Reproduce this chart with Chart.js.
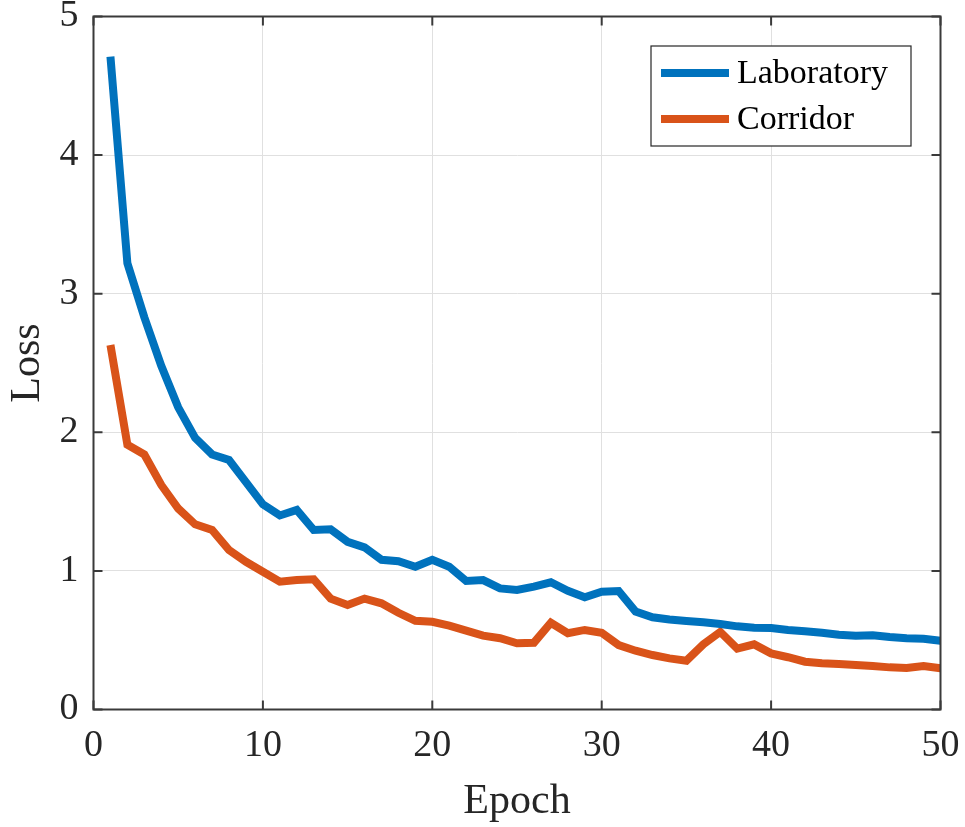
<!DOCTYPE html>
<html>
<head>
<meta charset="utf-8">
<script src="https://cdn.jsdelivr.net/npm/chart.js@4.4.1/dist/chart.umd.min.js"></script>
<style>
  html, body { margin: 0; padding: 0; background: #ffffff; }
  #wrap { width: 965px; height: 827px; position: relative; }
</style>
</head>
<body>
<div id="wrap"><canvas id="c" width="965" height="827"></canvas></div>
<script>
// ---- data ----
const epochs = [1,2,3,4,5,6,7,8,9,10,11,12,13,14,15,16,17,18,19,20,21,22,23,24,25,26,27,28,29,30,31,32,33,34,35,36,37,38,39,40,41,42,43,44,45,46,47,48,49,50];
const laboratory = [4.71,3.22,2.83,2.48,2.18,1.96,1.84,1.80,1.64,1.48,1.40,1.44,1.295,1.30,1.21,1.17,1.08,1.07,1.03,1.08,1.03,0.927,0.934,0.874,0.862,0.886,0.918,0.857,0.81,0.85,0.855,0.706,0.665,0.65,0.639,0.629,0.617,0.60,0.59,0.588,0.574,0.564,0.554,0.54,0.533,0.535,0.523,0.514,0.511,0.496];
const corridor = [2.63,1.91,1.84,1.62,1.45,1.336,1.295,1.15,1.066,0.994,0.922,0.934,0.939,0.80,0.754,0.80,0.766,0.698,0.64,0.633,0.605,0.569,0.533,0.514,0.478,0.482,0.626,0.55,0.574,0.554,0.465,0.424,0.393,0.369,0.352,0.47,0.56,0.44,0.47,0.405,0.377,0.345,0.333,0.328,0.321,0.314,0.304,0.30,0.314,0.297];
const seriesNames = ["Laboratory", "Corridor"];
const xTicks = [0,10,20,30,40,50];
const yTicks = [0,1,2,3,4,5];
const xTitle = "Epoch";
const yTitle = "Loss";

const FONT = "'Liberation Serif', 'Times New Roman', serif";
const AXIS_COLOR = '#3a3a3a';

const toPts = (ys) => ys.map((y, i) => ({ x: epochs[i], y: y }));

const framePlugin = {
  id: 'frame',
  afterDatasetsDraw(chart) {
    const { ctx, chartArea: a, scales } = chart;
    ctx.save();
    ctx.strokeStyle = AXIS_COLOR;
    ctx.lineWidth = 2;
    ctx.strokeRect(a.left, a.top, a.right - a.left, a.bottom - a.top);
    const tl = 9;
    ctx.beginPath();
    xTicks.forEach(v => {
      const px = scales.x.getPixelForValue(v);
      ctx.moveTo(px, a.bottom); ctx.lineTo(px, a.bottom - tl);
      ctx.moveTo(px, a.top); ctx.lineTo(px, a.top + tl);
    });
    yTicks.forEach(v => {
      const py = scales.y.getPixelForValue(v);
      ctx.moveTo(a.left, py); ctx.lineTo(a.left + tl, py);
      ctx.moveTo(a.right, py); ctx.lineTo(a.right - tl, py);
    });
    ctx.stroke();

    const bx = 651, by = 46, bw = 260, bh = 100;
    ctx.fillStyle = '#ffffff';
    ctx.fillRect(bx, by, bw, bh);
    ctx.strokeStyle = '#262626';
    ctx.lineWidth = 1.2;
    ctx.strokeRect(bx, by, bw, bh);
    chart.data.datasets.forEach((ds, i) => {
      const cy = by + 27 + i * 46;
      ctx.strokeStyle = ds.borderColor;
      ctx.lineWidth = 8;
      ctx.lineCap = 'butt';
      ctx.beginPath();
      ctx.moveTo(bx + 10, cy); ctx.lineTo(bx + 78, cy);
      ctx.stroke();
      ctx.fillStyle = '#000000';
      ctx.font = "34px " + FONT;
      ctx.textAlign = 'left';
      ctx.textBaseline = 'middle';
      ctx.fillText(ds.label, bx + 86, cy + 1);
    });
    ctx.restore();
  }
};

new Chart(document.getElementById('c'), {
  type: 'line',
  data: {
    datasets: [
      { label: seriesNames[0], data: toPts(laboratory), borderColor: '#0072BD', backgroundColor: '#0072BD', borderWidth: 8, pointRadius: 0, tension: 0, fill: false, borderCapStyle: 'butt', borderJoinStyle: 'miter' },
      { label: seriesNames[1], data: toPts(corridor), borderColor: '#D95319', backgroundColor: '#D95319', borderWidth: 8, pointRadius: 0, tension: 0, fill: false, borderCapStyle: 'butt', borderJoinStyle: 'miter' }
    ]
  },
  options: {
    responsive: false,
    animation: false,
    devicePixelRatio: 1,
    layout: { padding: { top: 16.5, right: 24.5, left: 0, bottom: 0 } },
    plugins: { legend: { display: false }, tooltip: { enabled: false } },
    scales: {
      x: {
        type: 'linear', min: 0, max: 50,
        afterBuildTicks: (s) => { s.ticks = xTicks.map(v => ({ value: v })); },
        afterFit: (s) => { s.height = 117.5; s.paddingLeft = 0; s.paddingRight = 0; },
        grid: { color: '#e0e0e0', lineWidth: 1, drawTicks: false },
        border: { display: false },
        ticks: { color: '#262626', font: { family: FONT, size: 38 }, padding: 14, maxRotation: 0, autoSkip: false },
        title: { display: true, text: xTitle, color: '#262626', font: { family: FONT, size: 42 }, padding: { top: 4, bottom: 0 } }
      },
      y: {
        type: 'linear', min: 0, max: 5,
        afterBuildTicks: (s) => { s.ticks = yTicks.map(v => ({ value: v })); },
        afterFit: (s) => { s.width = 93.5; s.paddingTop = 0; s.paddingBottom = 0; },
        grid: { color: '#e0e0e0', lineWidth: 1, drawTicks: false },
        border: { display: false },
        ticks: { color: '#262626', font: { family: FONT, size: 38 }, padding: 15, autoSkip: false },
        title: { display: true, text: yTitle, color: '#262626', font: { family: FONT, size: 42 }, padding: { top: 3, bottom: 0 } }
      }
    }
  },
  plugins: [framePlugin]
});
</script>
</body>
</html>
